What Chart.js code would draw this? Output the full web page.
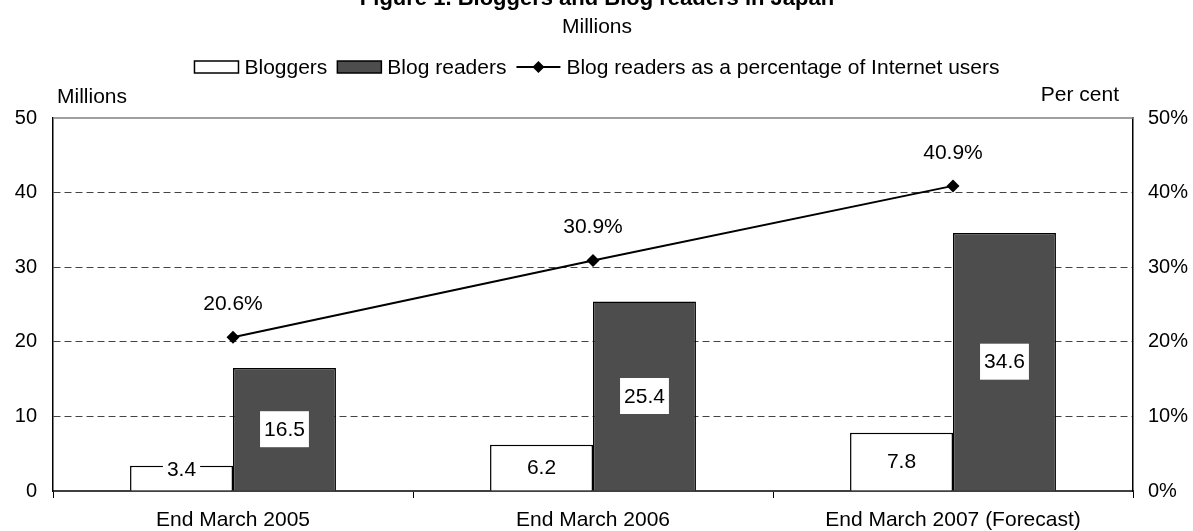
<!DOCTYPE html>
<html>
<head>
<meta charset="utf-8">
<script src="https://cdn.jsdelivr.net/npm/chart.js@4/dist/chart.umd.min.js"></script>
<style>
  html, body { margin: 0; padding: 0; background: #fff; }
  #wrap { width: 1193px; height: 531px; }
</style>
</head>
<body>
<div id="wrap"><canvas id="chart" width="1193" height="531"></canvas></div>
<script>
// Data
const categories = ['End March 2005', 'End March 2006', 'End March 2007 (Forecast)'];
const bloggers = [3.4, 6.2, 7.8];
const blogReaders = [16.5, 25.4, 34.6];
const readerShare = [20.6, 30.9, 40.9];
const millionTicks = [0, 10, 20, 30, 40, 50];
const percentTicks = [0, 10, 20, 30, 40, 50];

const titleText = 'Figure 1. Bloggers and Blog readers in Japan';
const subtitleText = 'Millions';
const leftAxisTitle = 'Millions';
const rightAxisTitle = 'Per cent';
const seriesNames = ['Bloggers', 'Blog readers', 'Blog readers as a percentage of Internet users'];

const FONT = "'Liberation Sans', Arial, Helvetica, sans-serif";
const FS = 21;        // labels, legend, captions
const FS_TICK = 20;   // axis numbers
const FS_HEAD = 22;   // title
const READER_FILL = '#4d4d4d';

Chart.defaults.font.family = FONT;
Chart.defaults.font.size = FS;
Chart.defaults.color = '#000';

// Value boxes on bars and percentage labels above the line
const valueLabels = {
  id: 'valueLabels',
  afterDatasetsDraw(chart) {
    const ctx = chart.ctx;
    ctx.save();
    ctx.font = FS + 'px ' + FONT;
    ctx.textAlign = 'center';
    ctx.textBaseline = 'middle';
    chart.data.datasets.forEach((ds, di) => {
      const meta = chart.getDatasetMeta(di);
      meta.data.forEach((el, i) => {
        const v = ds.data[i];
        if (ds.type === 'bar') {
          const txt = v.toFixed(1);
          const w = ctx.measureText(txt).width + 8;
          const h = 36;
          let cy = (el.y + el.base) / 2;
          cy = Math.min(cy, el.base - 3 - h / 2);
          ctx.fillStyle = '#fff';
          ctx.fillRect(el.x - w / 2, cy - h / 2, w, h);
          ctx.fillStyle = '#000';
          ctx.fillText(txt, el.x, cy + 1);
        } else {
          ctx.fillStyle = '#000';
          ctx.fillText(v.toFixed(1) + '%', el.x, el.y - 33);
        }
      });
    });
    ctx.restore();
  }
};

// Title, subtitle, legend, axis captions and the plot's top edge
const frame = {
  id: 'frame',
  afterDraw(chart) {
    const ctx = chart.ctx;
    const area = chart.chartArea;
    const cx = 597;
    ctx.save();
    ctx.fillStyle = '#000';
    ctx.textAlign = 'center';
    ctx.textBaseline = 'alphabetic';
    ctx.font = 'bold ' + FS_HEAD + 'px ' + FONT;
    ctx.fillText(titleText, cx, 5);
    ctx.font = FS + 'px ' + FONT;
    ctx.fillText(subtitleText, cx, 33);

    // top edge of plot
    ctx.strokeStyle = '#808080';
    ctx.lineWidth = 1.5;
    ctx.beginPath();
    ctx.moveTo(area.left, area.top);
    ctx.lineTo(area.right, area.top);
    ctx.stroke();

    // axis captions
    ctx.fillStyle = '#000';
    ctx.textAlign = 'left';
    ctx.fillText(leftAxisTitle, 57, 103);
    ctx.textAlign = 'right';
    ctx.fillText(rightAxisTitle, 1119, 101);

    // legend
    ctx.textBaseline = 'middle';
    const symW = 44, symH = 12, gapT = 6, gapI = 10, ly = 67;
    const widths = seriesNames.map(n => symW + gapT + ctx.measureText(n).width);
    const total = widths.reduce((a, b) => a + b, 0) + gapI * (widths.length - 1);
    let x = cx - total / 2;
    seriesNames.forEach((name, i) => {
      if (i < 2) {
        ctx.fillStyle = i === 0 ? '#fff' : READER_FILL;
        ctx.fillRect(x, ly - symH / 2, symW, symH);
        ctx.strokeStyle = '#000';
        ctx.lineWidth = 1.5;
        ctx.strokeRect(x, ly - symH / 2, symW, symH);
      } else {
        ctx.strokeStyle = '#000';
        ctx.lineWidth = 2;
        ctx.beginPath();
        ctx.moveTo(x, ly);
        ctx.lineTo(x + symW, ly);
        ctx.stroke();
        ctx.fillStyle = '#000';
        ctx.beginPath();
        const mx = x + symW / 2, r = 6;
        ctx.moveTo(mx, ly - r);
        ctx.lineTo(mx + r, ly);
        ctx.lineTo(mx, ly + r);
        ctx.lineTo(mx - r, ly);
        ctx.closePath();
        ctx.fill();
      }
      ctx.fillStyle = '#000';
      ctx.textAlign = 'left';
      ctx.fillText(name, x + symW + gapT, ly + 1);
      x += widths[i] + gapI;
    });
    ctx.restore();
  }
};

const gridColor = c => {
  const v = c.tick ? c.tick.value : null;
  return (v === 0 || v === 50) ? 'rgba(0,0,0,0)' : '#444';
};

new Chart(document.getElementById('chart'), {
  data: {
    labels: categories,
    datasets: [
      {
        type: 'line',
        label: seriesNames[2],
        data: readerShare,
        yAxisID: 'y1',
        borderColor: '#000',
        backgroundColor: '#000',
        borderWidth: 2,
        pointStyle: 'rectRot',
        pointRadius: 6.5,
        pointBorderWidth: 0,
        tension: 0,
        order: 0
      },
      {
        type: 'bar',
        label: seriesNames[0],
        data: bloggers,
        yAxisID: 'y',
        backgroundColor: '#fff',
        borderColor: '#000',
        borderWidth: 1.5,
        categoryPercentage: 0.572,
        barPercentage: 1,
        order: 1
      },
      {
        type: 'bar',
        label: seriesNames[1],
        data: blogReaders,
        yAxisID: 'y',
        backgroundColor: READER_FILL,
        borderColor: '#000',
        borderWidth: 1.5,
        categoryPercentage: 0.572,
        barPercentage: 1,
        order: 1
      }
    ]
  },
  options: {
    responsive: false,
    animation: false,
    layout: { padding: { top: 118, left: 0, right: 0, bottom: 0 } },
    plugins: {
      legend: { display: false },
      title: { display: false },
      tooltip: { enabled: false }
    },
    scales: {
      x: {
        grid: { offset: true, drawOnChartArea: false, drawTicks: true, tickLength: 7, color: '#000', lineWidth: 1 },
        border: { display: true, color: '#404040', width: 2 },
        ticks: { padding: 10, maxRotation: 0, autoSkip: false, font: { size: FS } },
        afterFit(scale) { scale.height = 40; }
      },
      y: {
        position: 'left',
        min: millionTicks[0],
        max: millionTicks[millionTicks.length - 1],
        afterBuildTicks(scale) { scale.ticks = millionTicks.map(v => ({ value: v })); },
        grid: { color: gridColor, lineWidth: 1, drawTicks: false },
        border: { display: true, color: '#000', width: 1.5, dash: [7, 4] },
        ticks: { padding: 16, font: { size: FS_TICK } },
        afterFit(scale) { scale.width = 53; }
      },
      y1: {
        position: 'right',
        min: percentTicks[0],
        max: percentTicks[percentTicks.length - 1],
        afterBuildTicks(scale) { scale.ticks = percentTicks.map(v => ({ value: v })); },
        grid: { drawOnChartArea: false, drawTicks: false },
        border: { display: true, color: '#000', width: 1.5 },
        ticks: { padding: 15, font: { size: FS_TICK }, callback: v => v + '%' },
        afterFit(scale) { scale.width = 60; }
      }
    }
  },
  plugins: [valueLabels, frame]
});
</script>
</body>
</html>
